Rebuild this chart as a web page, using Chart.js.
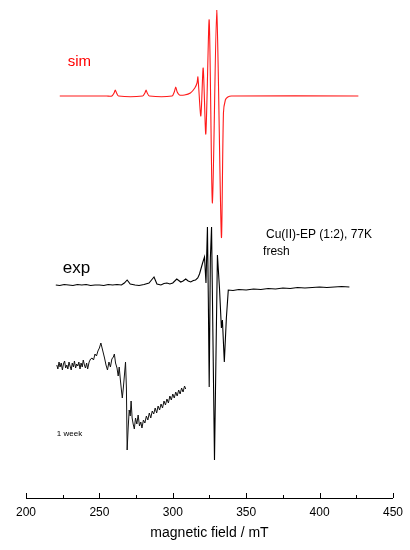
<!DOCTYPE html>
<html>
<head>
<meta charset="utf-8">
<script src="https://cdn.jsdelivr.net/npm/chart.js@4.4.1/dist/chart.umd.min.js"></script>
<style>
  html, body { margin: 0; padding: 0; background: #fff; }
  #box { width: 410px; height: 550px; }
</style>
</head>
<body>
<div id="box"><canvas id="epr"></canvas></div>
<script>
// ============================================
// DATA (field in mT, signal in arbitrary units)
// ============================================

// simulated spectrum (red)
const simField = [223, 255, 258.5, 260, 260.8, 261.7, 263, 279.5, 281, 281.8, 282.6, 284,
  299.5, 301, 302, 303, 304.5, 308, 312, 315, 316.5, 317.1, 319.1, 320.7, 322.5,
  324.8, 327.0, 329.9, 333.1, 334.5, 335.8, 337.5, 340, 426.4];
const simSignal = [402, 402, 402, 405, 408, 405, 402, 402, 405, 408, 405, 402,
  402, 406, 411, 406, 403, 403, 405, 410, 415, 421, 382, 430, 364,
  478, 295, 488, 261, 385, 398, 401, 402, 402];

// experimental spectrum, fresh sample (black)
const expField = [220.3, 223, 226, 229, 232, 235, 238, 241, 244, 247, 250, 253, 256, 259, 262,
  265, 267, 268.9, 271, 274.3, 277, 280.4, 283.8, 285.5, 287.2, 289.2, 291.9, 294, 296, 298,
  300, 302.7, 305.4, 307, 308.8, 310.5, 312.2, 314, 315.5, 317, 318.2, 320.3, 321.6, 322.6,
  323.6, 324.2, 324.8, 325.6, 326.4, 328.4, 330.4, 331.8, 333.1, 333.8, 335.1, 336.5, 337.8, 341, 345, 350,
  355, 360, 365, 370, 375, 380, 385, 390, 395, 400, 405, 410, 415, 420.3];
const expSignal = [213, 212.5, 213.5, 213, 212.5, 213.5, 213, 213.5, 212.5, 213, 213, 212.5, 213.5, 213, 213.5,
  213, 215, 218, 214, 213, 212.5, 213.5, 215, 218, 221, 214, 213, 214.5, 215, 214,
  215, 219, 216, 217, 219, 217, 216, 217.5, 218, 220, 224, 235, 241, 215,
  271, 200, 111, 240, 271, 38, 243, 210, 170, 178, 136, 180, 208, 207.5, 208.5, 208,
  209, 208.5, 209.5, 209, 210, 209.5, 210.5, 210, 210.5, 211, 210.5, 211, 211.5, 211];

// experimental spectrum after 1 week (black, low-field part)
const weekField = [221, 221.7, 222.5, 223.2, 224, 224.8, 225.5, 226.3, 227, 227.8, 228.5, 229.3,
  230, 230.8, 231.5, 232.3, 233, 233.8, 234.5, 235.3, 236, 236.8, 237.5, 238.3, 239, 239.8,
  240.5, 241.3, 242, 243, 244, 245, 246, 247, 248, 249, 250, 251, 251.5,
  252.5, 253.5, 254.5, 255.5, 256.5, 257.5, 258.5, 259.5, 260.2, 261, 262, 262.8, 263.5,
  264.3, 265, 265.6, 266.3, 267, 267.8, 268.4, 268.9, 269.6, 270.3, 271, 271.6, 272.3, 273,
  273.8, 274.6, 275.5, 276.4, 277.3, 278.2, 279, 280, 281, 282, 283, 284, 285, 286, 287,
  288, 289, 290, 291, 292, 293, 294, 295, 296, 297, 298, 299, 300, 301, 302, 303, 304,
  305, 306, 307, 308, 308.8];
const weekSignal = [133, 129, 136, 131, 135, 128, 134, 137, 130, 133, 129, 136, 132, 128, 135,
  131, 137, 130, 134, 132, 136, 129, 135, 131, 138, 133, 130, 135, 129,
  136, 139, 140, 138, 144, 142, 147, 150, 155, 152,
  146, 140, 133, 128, 136, 131, 139, 141, 144, 135, 130, 122, 131,
  118, 108, 100, 110, 122, 136, 110, 48, 70, 88, 82, 97, 80, 74,
  69, 80, 74, 83, 72, 76, 70, 78, 75, 82, 78, 85, 80, 87, 84,
  90, 85, 92, 88, 94, 90, 97, 93, 99, 95, 102, 98, 104, 100, 106, 102, 108,
  104, 110, 106, 112, 109];

// axis ticks
const fieldTicks = [200, 250, 300, 350, 400, 450];

// text labels on the plot
const notes = [
  { text: "sim", x: 228.4, y: 436, color: "#ff0000", font: "15px 'Liberation Sans'" },
  { text: "exp", x: 225, y: 230, color: "#000", font: "17px 'Liberation Sans'" },
  { text: "Cu(II)-EP (1:2), 77K", x: 363.5, y: 263, color: "#000", font: "12px 'Liberation Sans'" },
  { text: "fresh", x: 361.5, y: 246, color: "#000", font: "12px 'Liberation Sans'" },
  { text: "1 week", x: 221, y: 64, color: "#000", font: "8px 'Liberation Sans'" }
];

function toPoints(xs, ys) {
  return xs.map((x, i) => ({ x: x, y: ys[i] }));
}

// ============================================
// PLUGINS: inward ticks + text labels
// ============================================

const inwardTicks = {
  id: "inwardTicks",
  afterDraw(chart) {
    const sx = chart.scales.x;
    const c = chart.ctx;
    c.save();
    c.strokeStyle = "#000";
    c.lineWidth = 1;
    sx.ticks.forEach(t => {
      const px = Math.round(sx.getPixelForValue(t.value)) + 0.5;
      const len = fieldTicks.includes(t.value) ? 5 : 3;
      c.beginPath();
      c.moveTo(px, sx.top);
      c.lineTo(px, sx.top - len);
      c.stroke();
    });
    c.restore();
  }
};

const noteLabels = {
  id: "noteLabels",
  afterDatasetsDraw(chart) {
    const c = chart.ctx;
    c.save();
    c.textAlign = "left";
    c.textBaseline = "middle";
    notes.forEach(n => {
      c.fillStyle = n.color;
      c.font = n.font;
      c.fillText(n.text, chart.scales.x.getPixelForValue(n.x), chart.scales.y.getPixelForValue(n.y));
    });
    c.restore();
  }
};

// ============================================
// CHART
// ============================================

document.addEventListener("DOMContentLoaded", () => {
  const ctx = document.getElementById("epr").getContext("2d");

  new Chart(ctx, {
    type: "line",
    data: {
      datasets: [
        { label: "sim", data: toPoints(simField, simSignal), borderColor: "#ff1a1a", borderWidth: 1.1, tension: 0.25 },
        { label: "exp", data: toPoints(expField, expSignal), borderColor: "#000", borderWidth: 1.1, tension: 0 },
        { label: "1 week", data: toPoints(weekField, weekSignal), borderColor: "#111", borderWidth: 1, tension: 0 }
      ]
    },
    options: {
      responsive: true,
      maintainAspectRatio: false,
      animation: false,
      elements: { point: { radius: 0 } },
      layout: { padding: { left: 26, right: 14, top: 10, bottom: 0 } },
      plugins: { legend: { display: false }, tooltip: { enabled: false } },
      scales: {
        x: {
          type: "linear",
          min: 200,
          max: 450,
          afterFit(scale) { scale.height = 52; },
          ticks: {
            stepSize: 25,
            autoSkip: false,
            maxRotation: 0,
            padding: 7,
            color: "#000",
            font: { size: 12, family: "'Liberation Sans'" },
            callback: v => (fieldTicks.includes(v) ? String(v) : "")
          },
          grid: { display: true, drawOnChartArea: false, drawTicks: false },
          border: { display: true, color: "#000", width: 1 },
          title: {
            display: true,
            text: "magnetic field / mT",
            color: "#000",
            font: { size: 14, family: "'Liberation Sans'" },
            padding: { top: 4, bottom: 8 }
          }
        },
        y: {
          display: false,
          min: 0,
          max: 488
        }
      }
    },
    plugins: [inwardTicks, noteLabels]
  });
});
</script>
</body>
</html>
